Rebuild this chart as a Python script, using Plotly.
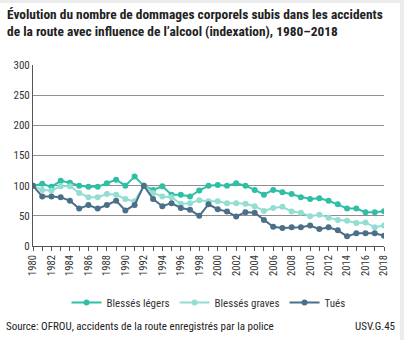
import plotly.graph_objects as go

years = list(range(1980, 2019))
legers = [100, 103, 98, 108, 105, 100, 98, 98, 104, 110, 100, 115, 100, 93, 99, 85, 85, 82, 92,
          100, 101, 100, 104, 100, 93, 85, 93, 89, 86, 81, 78, 79, 75, 69, 62, 62, 56, 56, 57.5]
graves = [100, 93, 92, 99, 99, 88, 81, 81, 86, 85, 78, 74, 100, 88, 82, 81, 70, 71, 76,
          74, 74, 71, 71, 70, 66, 58, 63, 65, 57, 55, 49.5, 52, 47, 43, 42, 38, 39, 31, 34]
tues = [100, 82, 82, 81, 75, 62, 68, 62, 68, 75, 59, 68, 100, 78, 66, 71, 63, 60, 50,
        69, 61, 57, 49, 56, 55, 43, 32, 30, 31, 31, 34, 28, 31, 26, 16, 21, 21, 21, 17]
series_names = ["Blessés légers", "Blessés graves", "Tués"]
colors = ["#2fbfa5", "#93ddd2", "#4b6f88"]
yticks = [0, 50, 100, 150, 200, 250, 300]

title = "Évolution du nombre de dommages corporels subis dans les accidents<br>de la route avec influence de l’alcool (indexation), 1980–2018"
source = "Source: OFROU, accidents de la route enregistrés par la police"
code = "USV.G.45"

FONT = "Liberation Sans Narrow, Roboto Condensed, Arial Narrow, sans-serif"

fig = go.Figure()
for name, vals, c in zip(series_names, [legers, graves, tues], colors):
    fig.add_trace(go.Scatter(x=years, y=vals, name=name, mode="lines+markers",
                             line=dict(color=c, width=2), marker=dict(color=c, size=6)))

W, H = 404, 340
L, R, T, B = 33, 20, 65, 94
pw, ph = W - L - R, H - T - B

def px_x(x):
    return (x - L) / pw

def px_y(y):
    return (H - B - y) / ph

fig.update_layout(
    width=W, height=H,
    margin=dict(l=L, r=R, t=T, b=B),
    paper_bgcolor="white", plot_bgcolor="white",
    font=dict(family=FONT, size=11, color="#333333"),
    showlegend=True,
    legend=dict(orientation="h", x=0.5, xanchor="center", y=px_y(288), yanchor="top",
                font=dict(size=11, color="#333333"), itemwidth=30, tracegroupgap=0),
    xaxis=dict(range=[1980, 2018], tickvals=years,
               ticktext=[str(y) if y % 2 == 0 else "" for y in years],
               tickangle=-90, ticks="outside", ticklen=4, tickcolor="#555555",
               showline=True, linecolor="#555555", showgrid=False, zeroline=False,
               tickfont=dict(size=10.5, color="#333333")),
    yaxis=dict(range=[0, 300], tickvals=yticks, showgrid=True, gridcolor="#8f8f8f",
               gridwidth=1, showline=True, linecolor="#555555", zeroline=False,
               ticks="", tickfont=dict(size=11, color="#333333")),
    shapes=[
        dict(type="rect", xref="paper", yref="paper", x0=px_x(0), x1=px_x(404),
             y0=px_y(3), y1=px_y(0), fillcolor="#ececec", line=dict(width=0), layer="below"),
        dict(type="rect", xref="paper", yref="paper", x0=px_x(400), x1=px_x(404),
             y0=px_y(340), y1=px_y(0), fillcolor="#ececec", line=dict(width=0), layer="below"),
    ],
    annotations=[
        dict(text="<b>" + title + "</b>", xref="paper", yref="paper", x=px_x(5), y=px_y(5),
             xanchor="left", yanchor="top", align="left", showarrow=False,
             font=dict(size=13.4, color="#222222", family=FONT)),
        dict(text=source, xref="paper", yref="paper", x=px_x(4), y=px_y(326),
             xanchor="left", yanchor="middle", showarrow=False,
             font=dict(size=11, color="#222222")),
        dict(text=code, xref="paper", yref="paper", x=px_x(397), y=px_y(326),
             xanchor="right", yanchor="middle", showarrow=False,
             font=dict(size=11, color="#222222")),
    ],
)

fig.write_html("out.html")
